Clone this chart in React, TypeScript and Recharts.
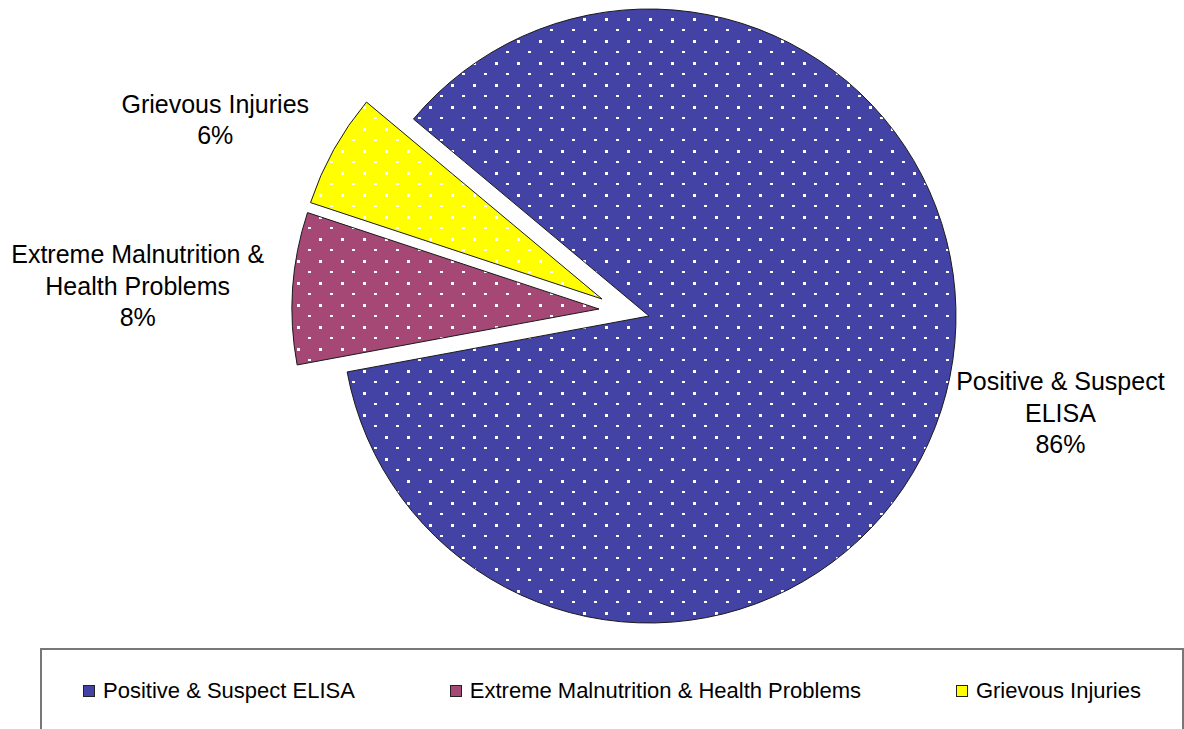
import React from "react";
import { Cell, Legend, Pie, PieChart } from "recharts";

const categories = [
  "Positive & Suspect ELISA",
  "Extreme Malnutrition & Health Problems",
  "Grievous Injuries",
];
const shares = [86, 8, 6];
// how the slice labels wrap next to the pie
const labelLines = [
  ["Positive & Suspect", "ELISA"],
  ["Extreme Malnutrition &", "Health Problems"],
  ["Grievous Injuries"],
];
const colors = ["#4343A5", "#A54876", "#FFFF00"];

const W = 1184;
const H = 729;
const CX = 649;
const CY = 316;
const R = 307;
const START = 140.1;
const FONT = "'Liberation Sans', Arial, sans-serif";
const LABEL_SIZE = 25;
const LINE_H = 31.5;

// exploded slices (px from pie centre) and small label nudges
const explode = [
  [0, 0],
  [-50, -7],
  [-47, -17],
];
const labelNudge = [
  [-14, -15],
  [-6, 8],
  [-16, 27],
];

const data = categories.map((name, i) => ({ name, value: shares[i] }));

let ctx: CanvasRenderingContext2D | null = null;
function textWidth(s: string, size: number) {
  if (!ctx) ctx = document.createElement("canvas").getContext("2d");
  if (!ctx) return s.length * size * 0.5;
  ctx.font = `${size}px 'Liberation Sans', Arial`;
  return ctx.measureText(s).width;
}

const RAD = Math.PI / 180;

function makeLabel(slice: number) {
  return (props: any) => {
    if (props.index !== slice) return null;
    const { cx, cy, midAngle, outerRadius } = props;
    const lines = [...labelLines[slice], `${shares[slice]}%`];
    const halfW = Math.max(...lines.map((l) => textWidth(l, LABEL_SIZE))) / 2;
    const halfH = (lines.length * LINE_H) / 2;
    const cos = Math.cos(midAngle * RAD);
    const sin = Math.sin(midAngle * RAD);
    const d = outerRadius + 20 + halfW * Math.abs(cos) + halfH * Math.abs(sin);
    const x = cx + d * cos + labelNudge[slice][0];
    const y = cy - d * sin + labelNudge[slice][1];
    const top = y - halfH + LINE_H / 2;
    return (
      <text
        x={x}
        y={top}
        textAnchor="middle"
        fontFamily={FONT}
        fontSize={LABEL_SIZE}
        fill="#000"
      >
        {lines.map((l, k) => (
          <tspan key={k} x={x} y={top + k * LINE_H} dy="0.36em">
            {l}
          </tspan>
        ))}
      </text>
    );
  };
}

function LegendBox() {
  return (
    <div
      style={{
        boxSizing: "border-box",
        width: W - 40,
        height: 81,
        border: "2px solid #777",
        borderBottom: "none",
        background: "#fff",
        display: "flex",
        alignItems: "center",
        justifyContent: "space-between",
        padding: "3px 41px 0 41px",
        fontFamily: FONT,
        fontSize: 22,
        color: "#000",
      }}
    >
      {categories.map((c, i) => (
        <div key={c} style={{ display: "flex", alignItems: "center", whiteSpace: "nowrap" }}>
          <span
            style={{
              display: "inline-block",
              boxSizing: "border-box",
              width: 12,
              height: 12,
              marginRight: 8,
              background: colors[i],
              border: "1px solid #222",
            }}
          />
          <span>{c}</span>
        </div>
      ))}
    </div>
  );
}

export default function App() {
  return (
    <div
      style={{
        position: "absolute",
        left: 0,
        top: 0,
        width: W,
        height: H,
        overflow: "hidden",
        background: "#fff",
      }}
    >
      <PieChart width={W} height={H} margin={{ top: 0, right: 0, bottom: 0, left: 0 }}>
        <defs>
          {colors.map((c, i) => (
            <pattern
              key={i}
              id={`dots${i}`}
              patternUnits="userSpaceOnUse"
              width={22}
              height={22}
            >
              <rect width={22} height={22} fill={c} />
              <rect x={11} y={18} width={3} height={3} fill="#fff" />
              <rect x={0} y={7} width={3} height={2} fill="#fff" />
            </pattern>
          ))}
        </defs>
        {data.map((_, i) => (
          <Pie
            key={i}
            data={data}
            dataKey="value"
            nameKey="name"
            cx={CX + explode[i][0]}
            cy={CY + explode[i][1]}
            outerRadius={R}
            startAngle={START}
            endAngle={START - 360}
            label={makeLabel(i)}
            labelLine={false}
            legendType="none"
            isAnimationActive={false}
          >
            {data.map((d, j) => (
              <Cell
                key={d.name}
                fill={j === i ? `url(#dots${j})` : "none"}
                stroke={j === i ? "#1a1a1a" : "none"}
                strokeWidth={1}
              />
            ))}
          </Pie>
        ))}
        <Legend
          content={() => <LegendBox />}
          wrapperStyle={{ position: "absolute", left: 40, top: 648, width: W - 40 }}
        />
      </PieChart>
    </div>
  );
}
